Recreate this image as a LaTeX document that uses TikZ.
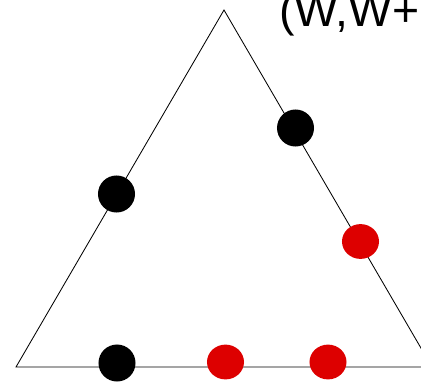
\documentclass[tikz,border=0pt]{standalone}
\usepackage{fontspec}
\setmainfont{Liberation Sans}
\usetikzlibrary{shapes.geometric}
\definecolor{myred}{HTML}{DD0000}

\begin{document}
\begin{tikzpicture}[x=0.025cm,y=-0.025cm,edge/.style={line width=0.6pt},dot/.style={circle,fill=black,inner sep=0pt,minimum size=0.925cm},rdot/.style={ellipse,fill=myred,inner sep=0pt,minimum width=0.925cm,minimum height=0.87cm},]
\useasboundingbox (0,0) rectangle (421,388);
\coordinate (top) at (224,10);
\coordinate (bl) at (16,367);
\coordinate (br) at (432,367);
\draw[edge] (top) -- (bl) -- (br) -- cycle;
\node[dot] (b1) at (116.5,194) {};
\node[dot] (b2) at (295.5,128) {};
\node[dot] (b3) at (117,363) {};
\node[rdot] (r1) at (360.5,241.5) {};
\node[rdot] (r2) at (225.5,362) {};
\node[rdot] (r3) at (328,362) {};
\node[anchor=base west,inner sep=0pt,font=\fontsize{33}{40}\selectfont] (lab) at (279,26) {(W,W+1)};
\end{tikzpicture}
\end{document}
